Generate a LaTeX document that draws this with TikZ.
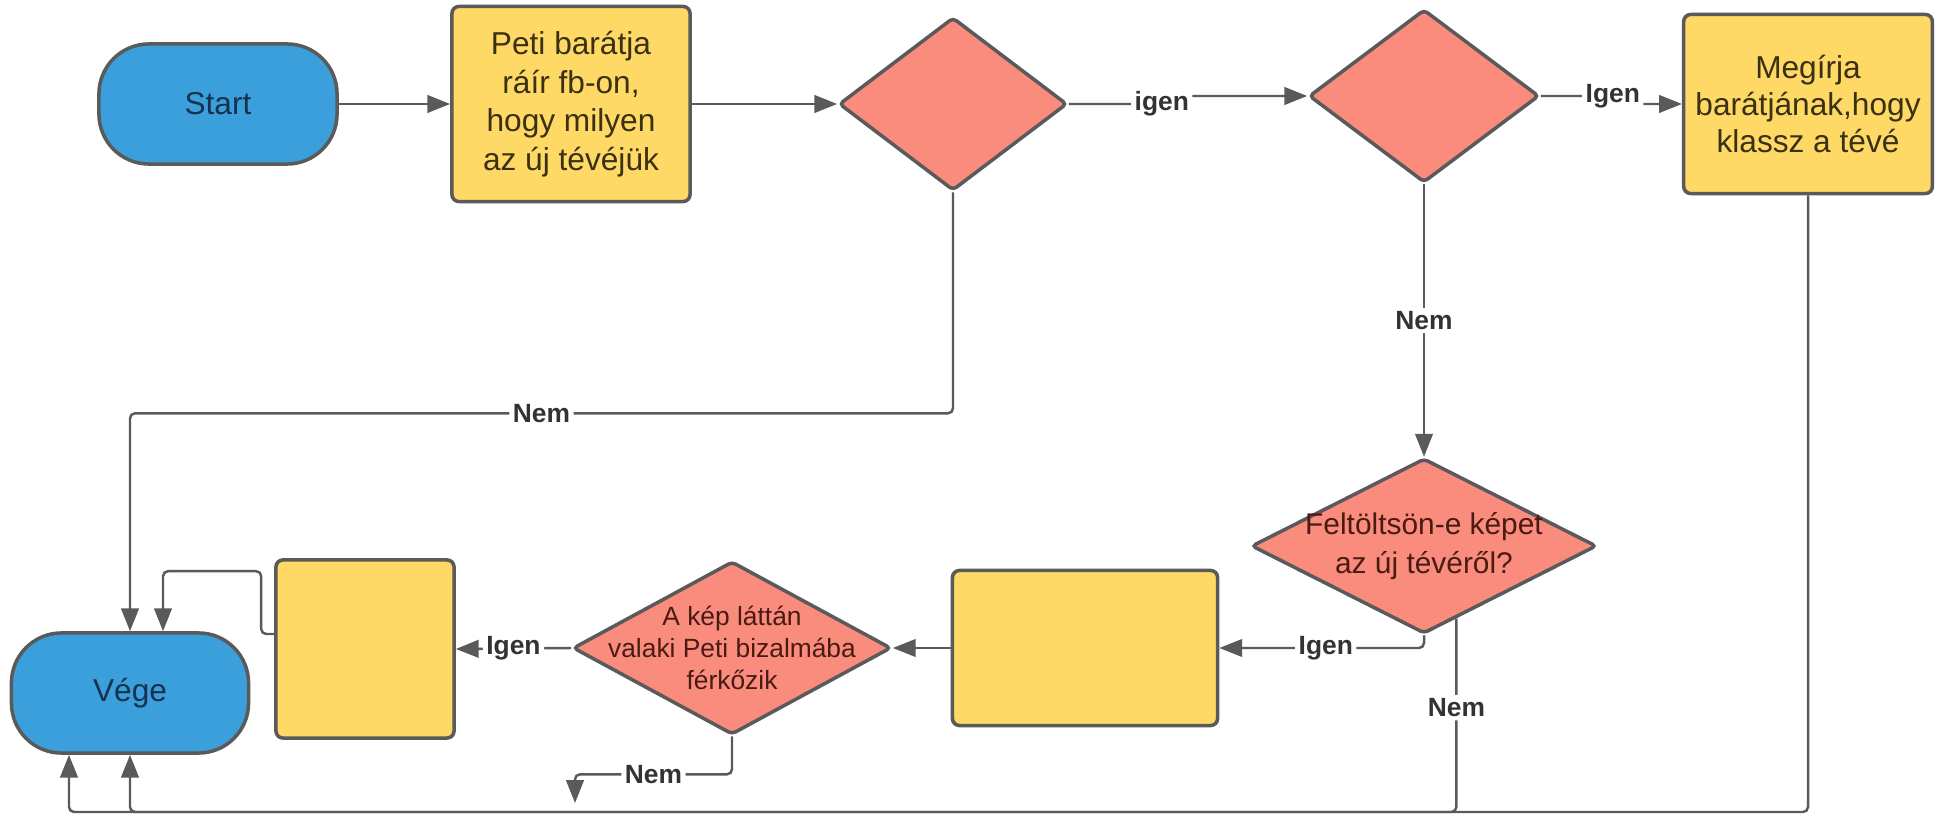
\documentclass[tikz,border=0pt]{standalone}
\usepackage{fontspec}
\setmainfont{Liberation Sans}
\usetikzlibrary{shapes.geometric, arrows.meta, calc}

\definecolor{lineGray}{HTML}{5A5A5A}
\definecolor{termBlue}{HTML}{3A9FDB}
\definecolor{termText}{HTML}{17324F}
\definecolor{procYellow}{HTML}{FFD966}
\definecolor{procText}{HTML}{3A3012}
\definecolor{decRed}{HTML}{F98C7C}
\definecolor{decText}{HTML}{4A1A14}
\definecolor{labelText}{HTML}{333333}

\begin{document}
\begin{tikzpicture}[x=0.01cm, y=-0.01cm,
    term/.style={draw=lineGray, line width=1pt, fill=termBlue, rounded corners=0.5cm,
        text=termText, font=\fontsize{9}{11}\selectfont},
    proc/.style={draw=lineGray, line width=1pt, fill=procYellow, rounded corners=0.07cm,
        align=center, text=procText, font=\fontsize{9}{11}\selectfont},
    dec/.style={diamond, draw=lineGray, line width=1pt, fill=decRed, inner sep=0pt,
        rounded corners=0.04cm},
    dectext/.style={align=center, text=decText},
    conn/.style={draw=lineGray, line width=0.7pt, rounded corners=0.05cm,
        -{Triangle[length=6.5pt,width=5pt]}},
    lbl/.style={fill=white, inner sep=1pt, text=labelText,
        font=\bfseries\fontsize{7.5}{9}\selectfont}]
    \useasboundingbox (0,0) rectangle (1943,816);

    % Top row
    \node[term, minimum width=2.38cm, minimum height=1.2cm] (start) at (218,104) {Start};
    \node[proc, minimum width=2.38cm, minimum height=1.95cm] (peti) at (571,104)
        {Peti barátja\\ráír fb-on,\\hogy milyen\\az új tévéjük};
    \node[dec, minimum width=2.28cm, minimum height=1.73cm] (d1) at (953,104) {};
    \node[dec, minimum width=2.3cm, minimum height=1.73cm] (d2) at (1424,96) {};
    \node[proc, minimum width=2.36cm, minimum height=1.79cm,
        font=\fontsize{9}{10.5}\selectfont] (meg) at (1808,104)
        {Megírja\\barátjának,hogy\\klassz a tévé};

    % Bottom row
    \node[dec, minimum width=3.45cm, minimum height=1.75cm,
        label={[dectext, font=\fontsize{8.5}{11}\selectfont]center:{Feltöltsön-e képet\\az új tévéről?}}]
        (d3) at (1424,546) {};
    \node[proc, minimum width=2.65cm, minimum height=1.55cm] (box3) at (1085,648) {};
    \node[dec, minimum width=3.18cm, minimum height=1.73cm,
        label={[dectext, font=\fontsize{7.5}{9}\selectfont]center:{A kép láttán\\valaki Peti bizalmába\\férkőzik}}]
        (d4) at (732,648) {};
    \node[proc, minimum width=1.78cm, minimum height=1.78cm] (box4) at (365,649) {};
    \node[term, minimum width=2.37cm, minimum height=1.2cm] (vege) at (130,693) {Vége};

    \coordinate (bot) at (0,812);
    \coordinate (nemend) at (575,803);

    % Connectors
    \draw[conn] (start.east) -- (peti.west);
    \draw[conn] (peti.east) -- (d1.west);
    \draw[conn] (d1.east) -- ++(93,0) node[lbl] {igen} |- (d2.west);
    \draw[conn] (d2.east) -- ++(72,0) node[lbl] {Igen} |- (meg.west);
    \draw[conn] (d2.south) -- node[lbl] {Nem} (d3.north);
    \draw[conn] (d3.south) |- node[lbl, pos=0.74] {Igen} (box3.east);
    \draw[conn] (box3.west) -- (d4.east);
    \draw[conn] (d4.west) -- node[lbl] {Igen} (box4.east);
    \draw[conn] ($(box4.west)+(0,-15)$) -- ++(-13,0) |- ($(vege.north)+(33,-60)$)
        -- ($(vege.north)+(33,0)$);
    \draw[conn] (d1.south) -- ++(0,221) -| node[lbl, pos=0.25] {Nem} (vege.north);
    \draw[conn] (d4.south) -- ++(0,38) -| node[lbl, pos=0.25] {Nem} (nemend);
    \draw[conn] (d3.-66) -- node[lbl, pos=0.46] {Nem} (d3.-66 |- bot) -| (vege.south);
    \draw[conn] (meg.south) -- (meg.south |- bot) -| ($(vege.south)+(-61,0)$);
\end{tikzpicture}
\end{document}
